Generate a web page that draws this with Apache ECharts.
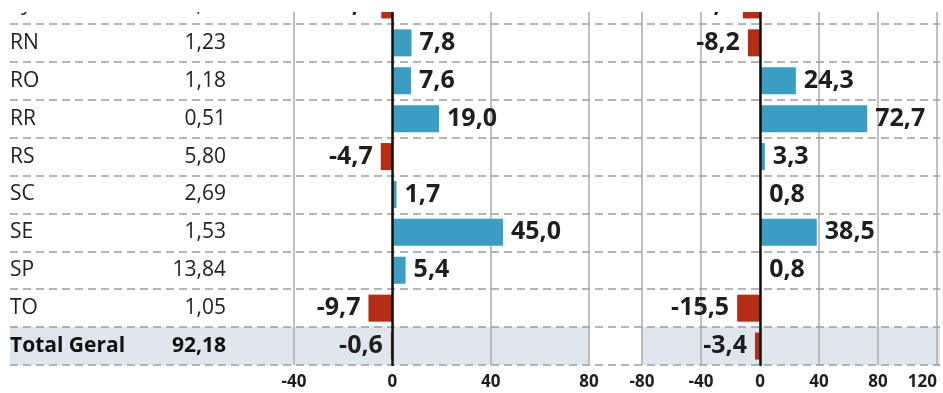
<!DOCTYPE html>
<html>
<head>
<meta charset="utf-8">
<script src="https://cdn.jsdelivr.net/npm/echarts@6/dist/echarts.min.js"></script>
<style>
  html, body { margin: 0; padding: 0; background: #fff; }
  #chartmain { width: 943px; height: 393px; }
</style>
</head>
<body>
<div id="chartmain"></div>
<script>
// dados
var states = ['RJ', 'RN', 'RO', 'RR', 'RS', 'SC', 'SE', 'SP', 'TO', 'Total Geral'];
var share = [7.78, 1.23, 1.18, 0.51, 5.80, 2.69, 1.53, 13.84, 1.05, 92.18];
var change1 = [-4.5, 7.8, 7.6, 19.0, -4.7, 1.7, 45.0, 5.4, -9.7, -0.6];
var change2 = [-11.6, -8.2, 24.3, 72.7, 3.3, 0.8, 38.5, 0.8, -15.5, -3.4];

var blue = '#3b9dc2', red = '#b52d16', ink = '#1e1e1e', shade = '#dfe6ed';
var fontFam = '"Open Sans", Roboto, sans-serif';

function fmt(v, d) { return v.toFixed(d).replace('.', ','); }

// cor de fundo apenas na linha do total
var shadeColors = states.map(function (s, i) { return i === states.length - 1 ? shade : 'rgba(0,0,0,0)'; });

function barData(arr) {
    return arr.map(function (v) {
        return {
            value: v,
            itemStyle: { color: v < 0 ? red : blue },
            label: { position: v < 0 ? 'left' : 'right' }
        };
    });
}

function catAxis(grid, extra) {
    var ax = {
        type: 'category', gridIndex: grid, data: states, inverse: true,
        axisLine: { show: false }, axisTick: { show: false }, axisLabel: { show: false },
        splitLine: { show: false }
    };
    for (var k in extra) ax[k] = extra[k];
    return ax;
}

function hiddenX(grid) {
    return { type: 'value', gridIndex: grid, min: 0, max: 1, show: false };
}

function panelX(grid, min, max, alignMax) {
    return {
        type: 'value', gridIndex: grid, min: min, max: max, interval: 40,
        axisLine: { show: false }, axisTick: { show: false },
        axisLabel: { color: ink, fontSize: 17, fontWeight: 'bold', fontFamily: fontFam, margin: 9, alignMaxLabel: alignMax },
        splitLine: { show: true, lineStyle: { color: '#ababab', width: 1.5 } }
    };
}

function barSeries(x, y, arr) {
    return {
        type: 'bar', xAxisIndex: x, yAxisIndex: y, data: barData(arr),
        barWidth: 27, z: 2,
        label: {
            show: true, distance: 8, color: ink, fontSize: 25, fontWeight: 'bold', fontFamily: fontFam,
            formatter: function (p) { return fmt(p.value, 1); }
        }
    };
}

function lblStyle(align, margin) {
    return {
        show: true, align: align, margin: margin, color: '#222', fontSize: 21, fontFamily: fontFam,
        formatter: function (v, i) { return i === states.length - 1 ? '{b|' + v + '}' : v; },
        rich: { b: { fontSize: 21, fontWeight: 'bold', fontFamily: fontFam, color: '#111' } }
    };
}

function grid(l, w, r) {
    var g = { top: -14, bottom: 28, left: l, outerBoundsMode: 'none', containLabel: false };
    if (w != null) g.width = w; else g.right = r;
    return g;
}

var option = {
    animation: false,
    grid: [
        grid(10, null, 3),    // linhas tracejadas + tabela
        grid(10, 579),        // fundo do total (esq)
        grid(642, null, 3),   // fundo do total (dir)
        grid(294, 295),       // painel 1
        grid(642, 295)        // painel 2
    ],
    xAxis: [hiddenX(0), hiddenX(1), hiddenX(2), panelX(3, -40, 80), panelX(4, -80, 120, 'right')],
    yAxis: [
        catAxis(0, {
            position: 'left', z: 1,
            axisLabel: lblStyle('left', 0),
            splitLine: { show: true, lineStyle: { color: '#9c9c9c', width: 1.5, type: [8, 5] } }
        }),
        catAxis(0, {
            position: 'left', offset: -224, data: share.map(function (v) { return fmt(v, 2); }),
            axisLabel: lblStyle('right', 8)
        }),
        catAxis(1, { splitArea: { show: true, areaStyle: { color: shadeColors } } }),
        catAxis(2, { splitArea: { show: true, areaStyle: { color: shadeColors } } }),
        catAxis(3, { z: 5, axisLine: { show: true, onZero: true, lineStyle: { color: '#111', width: 2.5 } } }),
        catAxis(4, { z: 5, axisLine: { show: true, onZero: true, lineStyle: { color: '#111', width: 2.5 } } })
    ],
    series: [
        barSeries(3, 4, change1),
        barSeries(4, 5, change2)
    ],
    graphic: [
        { type: 'rect', left: 0, top: 0, z: 100, shape: { width: 943, height: 12 }, style: { fill: '#fff' } }
    ]
};

var myChart = echarts.init(document.getElementById('chartmain'));
myChart.setOption(option);
</script>
</body>
</html>
